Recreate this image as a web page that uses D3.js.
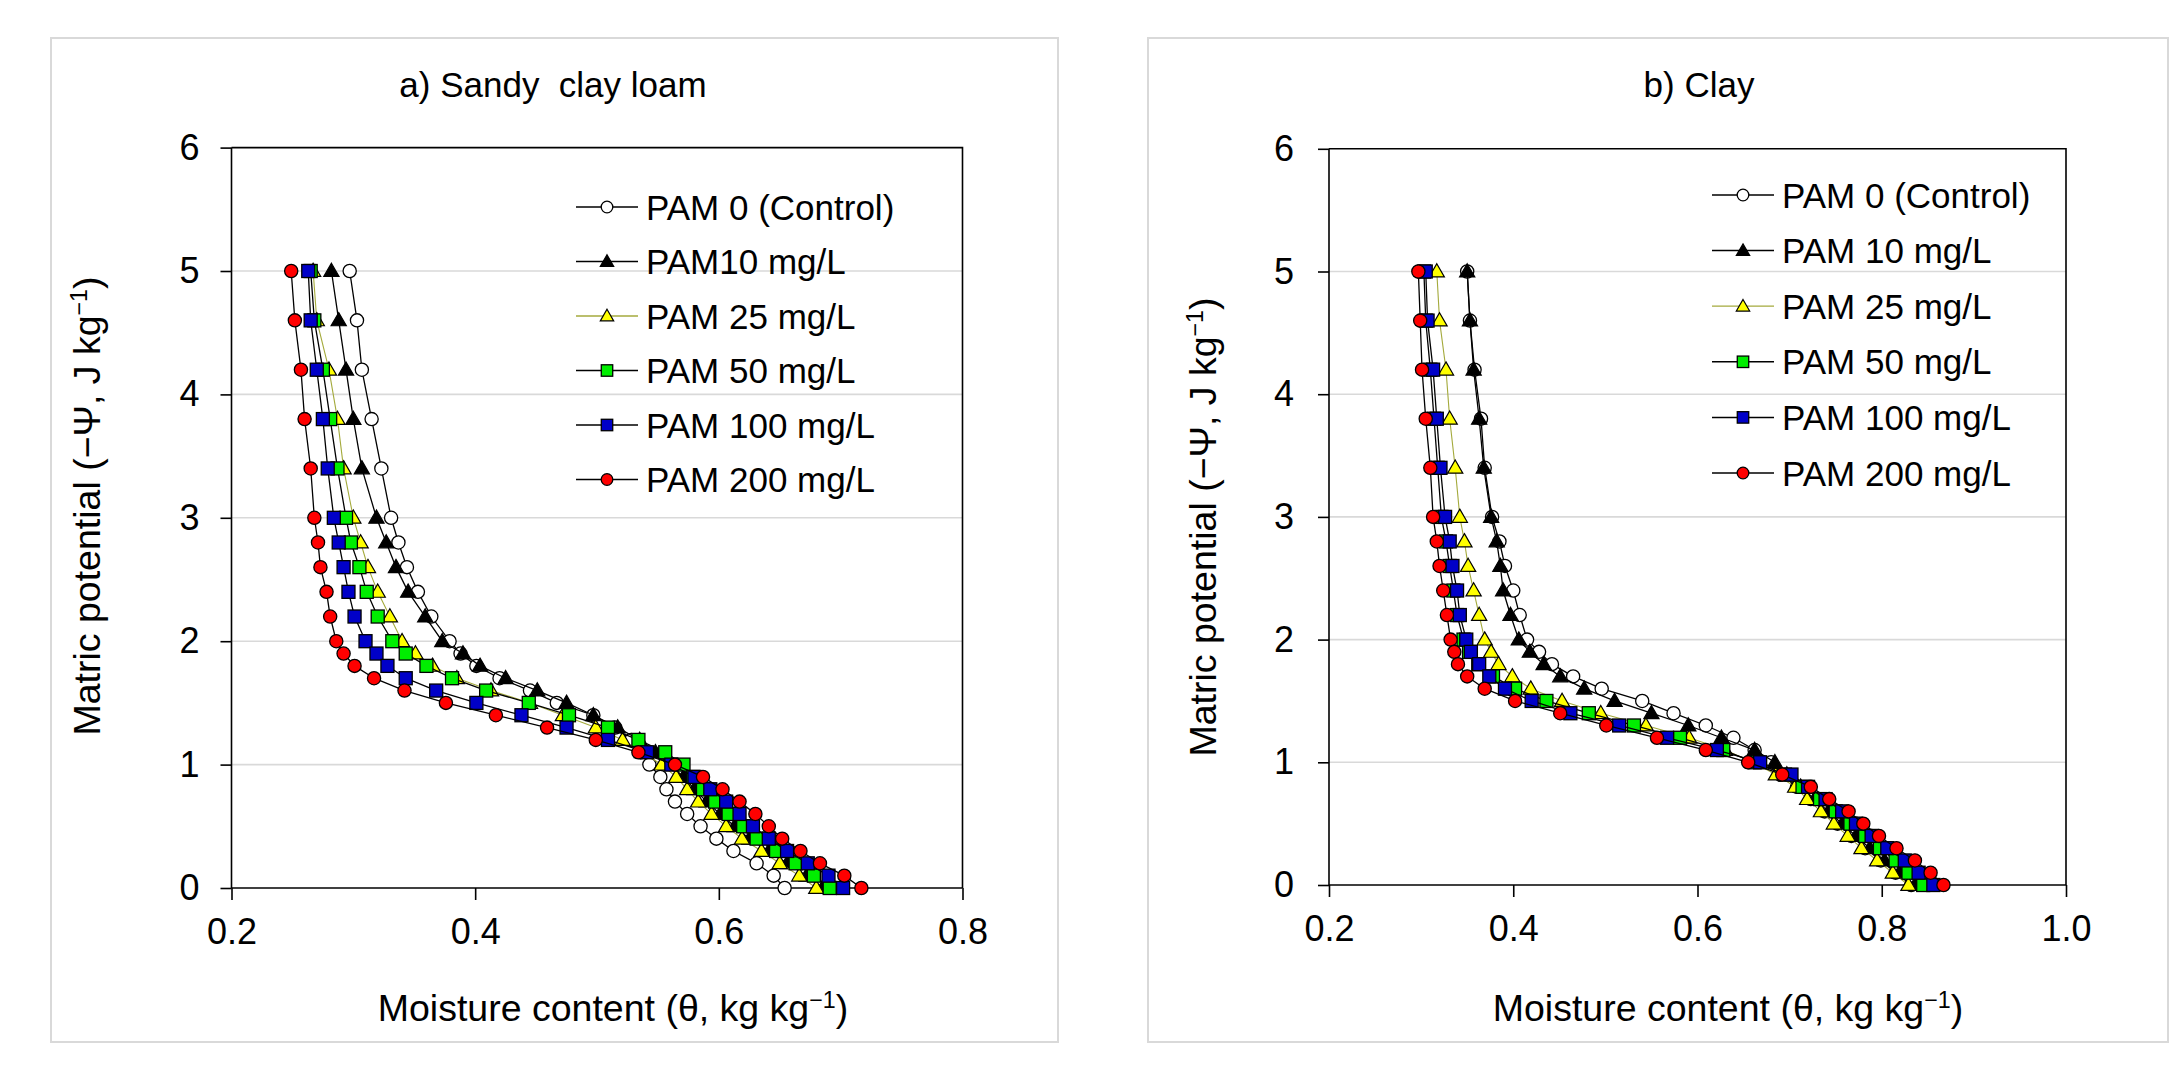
<!DOCTYPE html>
<html><head><meta charset="utf-8">
<script src="https://cdn.jsdelivr.net/npm/d3@7/dist/d3.min.js"></script>
<style>
html,body{margin:0;padding:0;background:#fff;}
svg{display:block;}
text{font-family:"Liberation Sans",Arial,Helvetica,sans-serif;fill:#000;white-space:pre;}
</style>
</head><body>
<svg id="chart" width="2175" height="1070"></svg>
<script>
// ---------- data ----------
const psiLevels = [5,4.6,4.2,3.8,3.4,3.0,2.8,2.6,2.4,2.2,2.0,1.9,1.8,1.7,1.6,1.5,1.4,1.3,1.2,1.1,1.0,0.9,0.8,0.7,0.6,0.5,0.4,0.3,0.2,0.1,0.0];

const legendA = ["PAM 0 (Control)","PAM10 mg/L","PAM 25 mg/L","PAM 50 mg/L","PAM 100 mg/L","PAM 200 mg/L"];
const legendB = ["PAM 0 (Control)","PAM 10 mg/L","PAM 25 mg/L","PAM 50 mg/L","PAM 100 mg/L","PAM 200 mg/L"];

// a) Sandy clay loam
const sclPam0   = [0.297,0.303,0.307,0.315,0.323,0.331,0.337,0.344,0.353,0.364,0.379,0.388,0.401,0.420,0.445,0.467,0.497,0.515,0.528,0.536,0.543,0.552,0.557,0.564,0.574,0.585,0.598,0.612,0.631,0.645,0.654];
const sclPam10  = [0.282,0.288,0.294,0.300,0.307,0.319,0.327,0.335,0.345,0.359,0.373,0.390,0.404,0.425,0.451,0.475,0.497,0.517,0.535,0.548,0.560,0.571,0.580,0.590,0.601,0.613,0.625,0.641,0.656,0.672,0.685];
const sclPam25  = [0.267,0.270,0.280,0.287,0.292,0.300,0.306,0.312,0.320,0.330,0.340,0.351,0.365,0.385,0.413,0.445,0.472,0.499,0.521,0.537,0.553,0.565,0.574,0.583,0.594,0.606,0.619,0.635,0.650,0.666,0.680];
const sclPam50  = [0.265,0.268,0.275,0.281,0.287,0.294,0.298,0.305,0.311,0.320,0.332,0.343,0.360,0.381,0.409,0.444,0.477,0.509,0.534,0.556,0.571,0.579,0.587,0.597,0.608,0.620,0.631,0.647,0.663,0.678,0.691];
const sclPam100 = [0.263,0.265,0.270,0.275,0.279,0.284,0.288,0.292,0.296,0.301,0.310,0.319,0.328,0.343,0.368,0.401,0.438,0.475,0.509,0.541,0.561,0.580,0.593,0.606,0.617,0.628,0.641,0.656,0.673,0.690,0.702];
const sclPam200 = [0.249,0.252,0.257,0.260,0.265,0.268,0.271,0.273,0.278,0.281,0.286,0.292,0.301,0.317,0.342,0.376,0.417,0.459,0.499,0.534,0.564,0.587,0.603,0.617,0.630,0.641,0.652,0.667,0.683,0.703,0.717];

// b) Clay
const clayPam0   = [0.350,0.353,0.358,0.365,0.369,0.377,0.385,0.391,0.400,0.407,0.415,0.428,0.442,0.465,0.496,0.540,0.574,0.609,0.639,0.662,0.680,0.690,0.708,0.723,0.738,0.752,0.767,0.782,0.799,0.815,0.832];
const clayPam10  = [0.350,0.353,0.357,0.363,0.368,0.376,0.382,0.386,0.389,0.397,0.406,0.418,0.433,0.451,0.477,0.510,0.550,0.590,0.626,0.662,0.684,0.697,0.712,0.727,0.742,0.757,0.772,0.787,0.803,0.819,0.836];
const clayPam25  = [0.317,0.320,0.327,0.331,0.337,0.342,0.347,0.351,0.357,0.363,0.369,0.376,0.384,0.399,0.419,0.453,0.495,0.544,0.591,0.630,0.660,0.685,0.706,0.719,0.734,0.748,0.763,0.778,0.795,0.812,0.829];
const clayPam50  = [0.303,0.305,0.310,0.314,0.318,0.322,0.327,0.331,0.335,0.339,0.346,0.352,0.362,0.378,0.402,0.436,0.482,0.531,0.581,0.628,0.662,0.695,0.714,0.733,0.750,0.766,0.782,0.798,0.815,0.829,0.845];
const clayPam100 = [0.305,0.307,0.313,0.317,0.321,0.326,0.331,0.334,0.339,0.342,0.349,0.354,0.363,0.374,0.391,0.420,0.462,0.515,0.567,0.621,0.668,0.702,0.720,0.739,0.757,0.772,0.789,0.806,0.825,0.840,0.856];
const clayPam200 = [0.297,0.299,0.301,0.305,0.310,0.313,0.317,0.320,0.324,0.328,0.332,0.336,0.340,0.350,0.369,0.402,0.451,0.501,0.556,0.609,0.655,0.692,0.723,0.743,0.764,0.780,0.797,0.816,0.836,0.853,0.867];

const yTicks = [0,1,2,3,4,5,6];
const xTicksA = [0.2,0.4,0.6,0.8];
const xTicksB = [0.2,0.4,0.6,0.8,1.0];

// ---------- styles ----------
const styles = [
  {shape:"circle",   fill:"#ffffff", line:"#000000", lw:1.3},
  {shape:"triangle", fill:"#000000", line:"#000000", lw:1.3},
  {shape:"triangle", fill:"#ffff00", line:"#a4aa3c", lw:1.1},
  {shape:"square",   fill:"#00ee00", line:"#000000", lw:1.3},
  {shape:"square",   fill:"#0000c8", line:"#000000", lw:1.3},
  {shape:"circle",   fill:"#ff0000", line:"#000000", lw:1.3}
];

const svg = d3.select("#chart");
const FONT_TICK = 36, FONT_LAB = 37.5, FONT_TITLE = 35, FONT_LEG = 35;

function drawMarker(g, shape, x, y, fill, scale){
  scale = scale || 1;
  if(shape==="circle"){
    g.append("circle").attr("cx",x).attr("cy",y).attr("r",6.6*scale)
      .attr("fill",fill).attr("stroke","#000").attr("stroke-width",1.3);
  } else if(shape==="square"){
    const s=13*scale;
    g.append("rect").attr("x",x-s/2).attr("y",y-s/2).attr("width",s).attr("height",s)
      .attr("fill",fill).attr("stroke","#000").attr("stroke-width",1.3);
  } else {
    g.append("path").attr("d",d3.symbol().type(d3.symbolTriangle).size(100*scale*scale)())
      .attr("transform",`translate(${x},${y+1})`)
      .attr("fill",fill).attr("stroke","#000").attr("stroke-width",1.2);
  }
}

function addSupText(sel, parts){
  parts.forEach(p=>{
    const t = sel.append("tspan").text(p[0]);
    if(p[1]) t.attr("baseline-shift","super").attr("font-size","62%");
  });
}

function panel(cfg){
  const g = svg.append("g");
  g.append("rect").attr("x",cfg.frame[0]).attr("y",cfg.frame[1])
    .attr("width",cfg.frame[2]-cfg.frame[0]).attr("height",cfg.frame[3]-cfg.frame[1])
    .attr("fill","none").attr("stroke","#d9d9d9").attr("stroke-width",2);

  const x = d3.scaleLinear().domain(cfg.xDomain).range([cfg.plot[0],cfg.plot[2]]);
  const y = d3.scaleLinear().domain([0,6]).range([cfg.plot[3],cfg.plot[1]]);

  g.append("g").selectAll("line").data(yTicks.filter(v=>v>0&&v<6)).join("line")
    .attr("x1",x.range()[0]).attr("x2",x.range()[1])
    .attr("y1",d=>y(d)).attr("y2",d=>y(d))
    .attr("stroke","#d9d9d9").attr("stroke-width",1.6);

  const yAxis = d3.axisLeft(y).tickValues(yTicks).tickSize(11).tickPadding(cfg.yPad).tickFormat(d3.format("d"));
  const ya = g.append("g").attr("transform",`translate(${x.range()[0]},0)`).call(yAxis);
  const xAxis = d3.axisBottom(x).tickValues(cfg.xTicks).tickSize(12).tickPadding(18).tickFormat(d3.format(".1f"));
  const xa = g.append("g").attr("transform",`translate(0,${y(0)})`).call(xAxis);
  [ya,xa].forEach(a=>{
    a.select(".domain").attr("stroke","#000").attr("stroke-width",1.6);
    a.selectAll(".tick line").attr("stroke","#000").attr("stroke-width",1.6);
    a.selectAll(".tick text").attr("font-size",FONT_TICK).attr("fill","#000")
      .attr("font-family",'"Liberation Sans",Arial,sans-serif');
  });
  ya.select(".domain").attr("d",`M0,${y(0)}V${y(6)}`);
  xa.select(".domain").attr("d",`M${x.range()[0]},0H${x.range()[1]}`);
  g.append("path").attr("d",`M${x.range()[0]},${y(6)}H${x.range()[1]}V${y(0)}`)
    .attr("fill","none").attr("stroke","#000").attr("stroke-width",1.6);

  const line = d3.line().x(d=>x(d[0])).y(d=>y(d[1]));
  cfg.series.forEach((vals,i)=>{
    const st = styles[i];
    const pts = vals.map((v,k)=>[v,psiLevels[k]]);
    const sg = g.append("g");
    sg.append("path").datum(pts).attr("d",line).attr("fill","none")
      .attr("stroke",st.line).attr("stroke-width",st.lw);
    pts.forEach(p=>drawMarker(sg, st.shape, x(p[0]), y(p[1]), st.fill, 1));
  });

  const lg = g.append("g");
  cfg.legend.forEach((name,i)=>{
    const st = styles[i];
    const yy = cfg.legY0 + i*cfg.legDy;
    lg.append("line").attr("x1",cfg.legX).attr("x2",cfg.legX+62).attr("y1",yy).attr("y2",yy)
      .attr("stroke",st.line).attr("stroke-width",st.lw+0.2);
    drawMarker(lg, st.shape, cfg.legX+31, yy, st.fill, 0.88);
    lg.append("text").attr("x",cfg.legX+70).attr("y",yy+12.5).attr("font-size",FONT_LEG).text(name);
  });

  g.append("text").attr("x",cfg.titleX).attr("y",97).attr("text-anchor","middle")
    .attr("font-size",FONT_TITLE).text(cfg.title);

  const xl = g.append("text").attr("x",cfg.xLabX).attr("y",1021).attr("text-anchor","middle")
    .attr("font-size",FONT_LAB);
  addSupText(xl,[["Moisture content (θ, kg kg",false],["−1",true],[")",false]]);

  const yl = g.append("text").attr("transform",`translate(${cfg.yLabX},${cfg.yLabY}) rotate(-90)`)
    .attr("text-anchor","middle").attr("font-size",FONT_LAB);
  addSupText(yl,[["Matric potential (−Ψ, J kg",false],["−1",true],[")",false]]);
}

panel({
  frame:[51,38,1058,1042],
  plot:[231.5,147.6,962.5,888],
  xDomain:[0.2,0.8], xTicks:xTicksA, yPad:21,
  series:[sclPam0,sclPam10,sclPam25,sclPam50,sclPam100,sclPam200],
  legend:legendA, legX:576, legY0:207, legDy:54.5,
  title:"a) Sandy  clay loam", titleX:553,
  xLabX:613, yLabX:100, yLabY:506
});

panel({
  frame:[1148,38,2168,1042],
  plot:[1329,148.8,2066,885],
  xDomain:[0.2,1.0], xTicks:xTicksB, yPad:24,
  series:[clayPam0,clayPam10,clayPam25,clayPam50,clayPam100,clayPam200],
  legend:legendB, legX:1712, legY0:195, legDy:55.6,
  title:"b) Clay", titleX:1699,
  xLabX:1728, yLabX:1216, yLabY:527
});
</script>
</body></html>
